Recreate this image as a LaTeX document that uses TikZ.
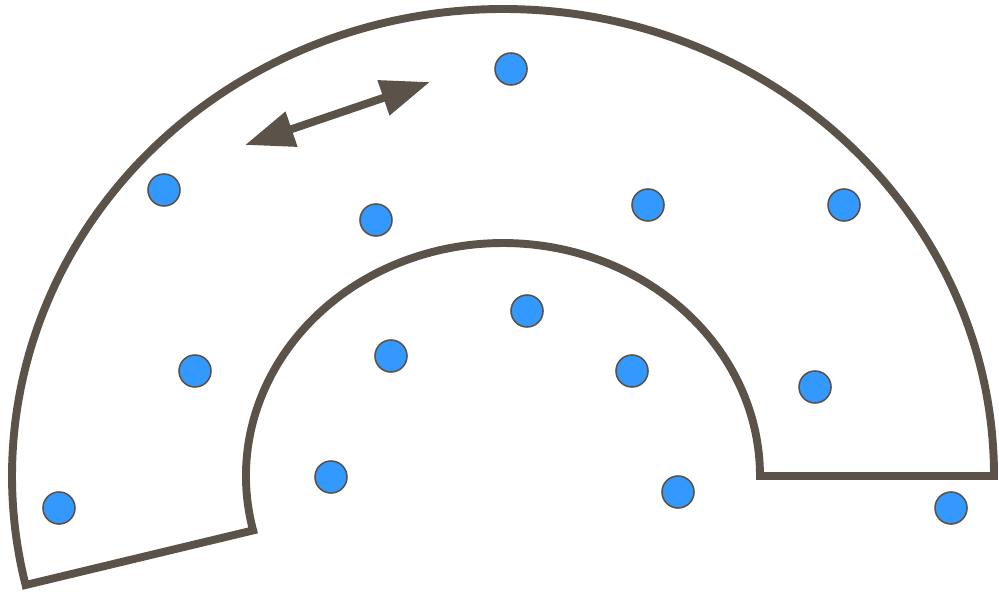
\documentclass[tikz,border=0pt]{standalone}
\usepackage{tikz}
\usetikzlibrary{arrows.meta}

\definecolor{wallgray}{HTML}{5B5249}
\definecolor{dotblue}{HTML}{3399FF}

\begin{document}
\begin{tikzpicture}[x=0.02cm, y=0.02cm,
  wall/.style={draw=wallgray, line width=4.5pt},
  dot/.style={circle, draw=wallgray, fill=dotblue, line width=0.9pt, minimum size=0.64cm, inner sep=0pt},
  arr/.style={{Triangle[length=28pt, width=20pt]}-{Triangle[length=28pt, width=20pt]}, draw=wallgray, line width=4.5pt}
]
\useasboundingbox (0,0) rectangle (999,596);

% half ring
\draw[wall] (994,120) arc[start angle=0, end angle=193.5, x radius=491, y radius=467]
  -- (253.1,65.6) arc[start angle=193.5, end angle=0, x radius=257, y radius=233]
  -- cycle;

% particles
\node[dot] (p1)  at (511,527) {};
\node[dot] (p2)  at (164,406) {};
\node[dot] (p3)  at (376,376) {};
\node[dot] (p4)  at (648,391) {};
\node[dot] (p5)  at (844,391) {};
\node[dot] (p6)  at (527,285) {};
\node[dot] (p7)  at (391,240) {};
\node[dot] (p8)  at (195,225) {};
\node[dot] (p9)  at (632,225) {};
\node[dot] (p10) at (815,209) {};
\node[dot] (p11) at (331,119) {};
\node[dot] (p12) at (678,104) {};
\node[dot] (p13) at (59,88)   {};
\node[dot] (p14) at (951,88)  {};

% motion
\coordinate (mvA) at (245,451);
\coordinate (mvB) at (430,514);
\draw[arr] (mvA) -- (mvB);
\end{tikzpicture}
\end{document}
